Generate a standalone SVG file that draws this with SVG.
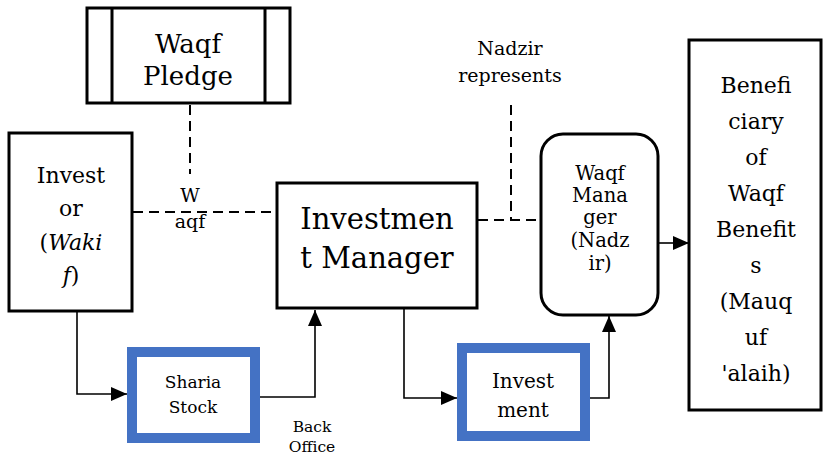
<svg xmlns="http://www.w3.org/2000/svg" width="823" height="457" viewBox="0 0 823 457">
<defs>
<style>
.box{fill:#fff;stroke:#000;stroke-width:3}
.blue{fill:#fff;stroke:#4472c4;stroke-width:10}
.dash{fill:none;stroke:#000;stroke-width:2;stroke-dasharray:10 6}
.line{fill:none;stroke:#000;stroke-width:1.6}
text{font-family:'DejaVu Serif','Liberation Serif',serif;fill:#000;text-anchor:middle}
.it{font-style:italic}
</style>
<marker id="ah" markerWidth="16" markerHeight="14" refX="16" refY="7" orient="auto" markerUnits="userSpaceOnUse">
<path d="M0,0 L16,7 L0,14 Z" fill="#000"/>
</marker>
</defs>
<g id="connectors">
<path class="dash" d="M190,105 V174"/>
<path class="dash" d="M133,212 H277"/>
<path class="dash" d="M478,220 H541"/>
<path class="dash" d="M511,105 V220"/>
<path class="line" d="M658,243 H689" marker-end="url(#ah)"/>
<path class="line" d="M77,312 V394 H127" marker-end="url(#ah)"/>
<path class="line" d="M260,397 H315 V310" marker-end="url(#ah)"/>
<path class="line" d="M404,309 V398 H457" marker-end="url(#ah)"/>
<path class="line" d="M589,398 H609 V316" marker-end="url(#ah)"/>
</g>
<g id="waqf-pledge">
<rect class="box" x="87" y="8" width="203" height="95"/>
<path class="box" d="M112,8 V103 M265,8 V103"/>
<text font-size="26"><tspan x="188" y="53">Waqf</tspan><tspan x="188" y="85">Pledge</tspan></text>
</g>
<g id="investor">
<rect class="box" x="9" y="133" width="123" height="178"/>
<text font-size="22"><tspan x="71" y="183">Invest</tspan><tspan x="71" y="216">or</tspan><tspan x="71" y="250">(<tspan class="it">Waki</tspan></tspan><tspan x="71" y="283"><tspan class="it">f</tspan>)</tspan></text>
</g>
<g id="waqf-label">
<text font-size="19"><tspan x="190" y="202">W</tspan><tspan x="190" y="228">aqf</tspan></text>
</g>
<g id="investment-manager">
<rect class="box" x="277" y="183" width="200" height="125"/>
<text font-size="29"><tspan x="377" y="229">Investmen</tspan><tspan x="377" y="268">t Manager</tspan></text>
</g>
<g id="nadzir-label">
<text font-size="19"><tspan x="510" y="55">Nadzir</tspan><tspan x="510" y="82">represents</tspan></text>
</g>
<g id="waqf-manager">
<rect class="box" x="541" y="134" width="117" height="181" rx="22"/>
<text font-size="19.5"><tspan x="600" y="180">Waqf</tspan><tspan x="600" y="202">Mana</tspan><tspan x="600" y="224">ger</tspan><tspan x="600" y="247">(Nadz</tspan><tspan x="600" y="270">ir)</tspan></text>
</g>
<g id="beneficiary">
<rect class="box" x="689" y="40" width="132" height="370"/>
<text font-size="22"><tspan x="756" y="93">Benefi</tspan><tspan x="756" y="129">ciary</tspan><tspan x="756" y="165">of</tspan><tspan x="756" y="201">Waqf</tspan><tspan x="756" y="237">Benefit</tspan><tspan x="756" y="273">s</tspan><tspan x="756" y="309">(Mauq</tspan><tspan x="756" y="345">uf</tspan><tspan x="756" y="381">'alaih)</tspan></text>
</g>
<g id="sharia-stock">
<rect class="blue" x="132" y="352" width="123" height="86"/>
<text font-size="17"><tspan x="193" y="388">Sharia</tspan><tspan x="193" y="413">Stock</tspan></text>
</g>
<g id="back-office-label">
<text font-size="15.5"><tspan x="312" y="432">Back</tspan><tspan x="312" y="452">Office</tspan></text>
</g>
<g id="investment">
<rect class="blue" x="462" y="348" width="123" height="88"/>
<text font-size="20"><tspan x="523" y="388">Invest</tspan><tspan x="523" y="417">ment</tspan></text>
</g>
</svg>
